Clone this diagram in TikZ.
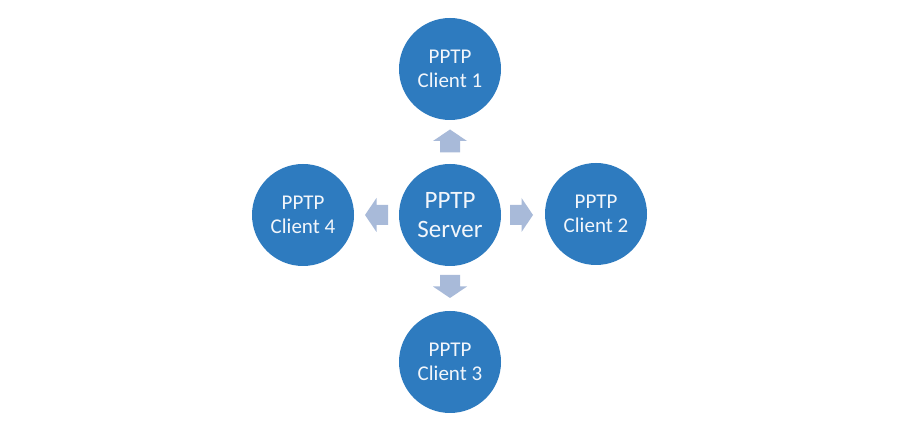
\documentclass[tikz,border=0pt]{standalone}
\usepackage{fontspec}
\setmainfont{Carlito}
\definecolor{circblue}{HTML}{2E7BBF}
\definecolor{arrblue}{HTML}{A8BAD9}
\definecolor{txtwhite}{HTML}{F2F6FB}
\begin{document}
\begin{tikzpicture}[x=1pt,y=1pt,
  client/.style={circle,fill=circblue,draw=none,minimum size=102pt,inner sep=0pt,
    text=txtwhite,align=center,font=\fontsize{21}{24}\selectfont},
  server/.style={client,font=\fontsize{25}{29}\selectfont},
  blockarr/.pic={\fill[arrblue] (-11.5,-10) -- (0,-10) -- (0,-17) -- (11.5,0) -- (0,17) -- (0,10) -- (-11.5,10) -- cycle;}]
\fill[white] (0,0) rectangle (900,425);
\useasboundingbox (0,0) rectangle (900,425);
\node[server] (srv) at (450,210) {PPTP\\Server};
\node[client] (c1) at (450,356) {PPTP\\Client 1};
\node[client] (c2) at (596,211) {PPTP\\Client 2};
\node[client] (c3) at (450,63) {PPTP\\Client 3};
\node[client] (c4) at (303,210) {PPTP\\Client 4};
\pic[rotate=90] at (450,284) {blockarr};
\pic at (521.5,210) {blockarr};
\pic[rotate=-90] at (450,138.5) {blockarr};
\pic[rotate=180] at (376.5,210) {blockarr};
\end{tikzpicture}
\end{document}
